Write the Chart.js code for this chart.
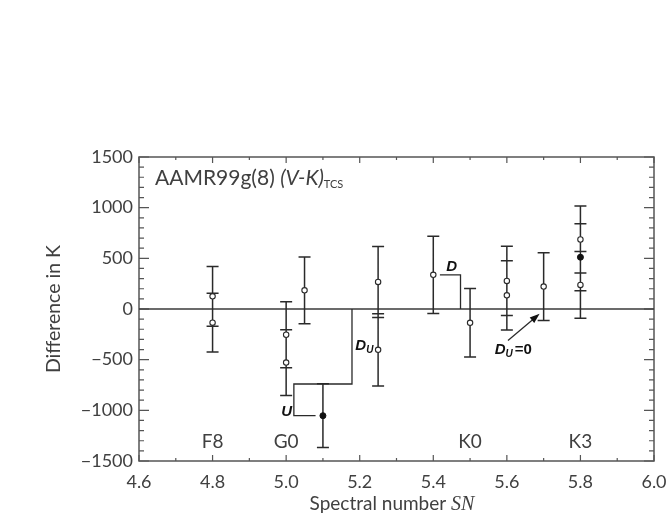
<!DOCTYPE html>
<html lang="en">
<head>
<meta charset="UTF-8">
<title>AAMR99g(8) (V-K)TCS</title>
<script src="https://cdn.jsdelivr.net/npm/chart.js"></script>
<style>
    body { margin: 0; background: #fff; }
    #wrap { width: 667px; height: 516px; }
</style>
</head>
<body>
<div id="wrap"><canvas id="chart" width="667" height="516"></canvas></div>
<script>
    // open symbols: spectral number, difference (K), error bar half length
    const spectralNumber = [4.8, 4.8, 5.0, 5.0, 5.05, 5.25, 5.25, 5.4, 5.5, 5.6, 5.6, 5.7, 5.8, 5.8];
    const difference     = [125, -135, -254, -529, 184, 267, -403, 337, -136, 277, 135, 221, 686, 238];
    const errorBar       = [295, 290, 325, 325, 330, 350, 356, 382, 338, 342, 342, 334, 330, 330];

    // filled symbols
    const filledNumber = [5.1, 5.8];
    const filledDiff   = [-1053, 511];
    const filledErr    = [315, 330];

    // spectral type labels along the bottom
    const spectralTypes = ['F8', 'G0', 'K0', 'K3'];
    const spectralTypeX = [4.8, 5.0, 5.5, 5.8];
    const spectralTypeLevel = -1310;

    const xTickValues = [4.6, 4.8, 5.0, 5.2, 5.4, 5.6, 5.8, 6.0];
    const yTickValues = [-1500, -1000, -500, 0, 500, 1000, 1500];

    // bracket U + D_U, bracket D, arrow for D_U = 0 (data units)
    const uBracketX = [5.08, 5.021, 5.021, 5.179, 5.179];
    const uBracketY = [-1053, -1053, -740, -740, 0];
    const dBracketX = [5.418, 5.474, 5.474];
    const dBracketY = [337, 337, 0];
    const arrowX = [5.603, 5.689];
    const arrowY = [-311, -47];

    const FONT = 'Lato, "Liberation Sans", sans-serif';
    const INK = '#2a2a2a';
    const TEXT = '#404040';

    function font(size, style) {
        return (style || 'normal') + ' 400 ' + size + 'px ' + FONT;
    }

    const openPoints = spectralNumber.map((x, i) => ({ x: x, y: difference[i], e: errorBar[i] }));
    const filledPoints = filledNumber.map((x, i) => ({ x: x, y: filledDiff[i], e: filledErr[i] }));

    // axes box, inward ticks, zero line, error bars, annotations
    const decorations = {
        id: 'decorations',
        beforeDatasetsDraw(chart) {
            const c = chart.ctx;
            const a = chart.chartArea;
            const xs = chart.scales.x, ys = chart.scales.y;
            c.save();
            c.strokeStyle = '#555';
            c.lineWidth = 1.5;
            c.strokeRect(a.left, a.top, a.right - a.left, a.bottom - a.top);

            c.lineWidth = 1.2;
            c.beginPath();
            for (let k = 0; k <= 14; k++) {
                const v = 4.6 + k * 0.1;
                const px = xs.getPixelForValue(v);
                const len = k % 2 === 0 ? 6 : 3;
                c.moveTo(px, a.bottom); c.lineTo(px, a.bottom - len);
                c.moveTo(px, a.top); c.lineTo(px, a.top + len);
            }
            for (let k = 0; k <= 30; k++) {
                const v = -1500 + k * 100;
                const py = ys.getPixelForValue(v);
                const len = k % 5 === 0 ? 10 : 5;
                c.moveTo(a.left, py); c.lineTo(a.left + len, py);
                c.moveTo(a.right, py); c.lineTo(a.right - len, py);
            }
            c.stroke();

            // zero line
            c.strokeStyle = '#3a3a3a';
            c.lineWidth = 1.3;
            c.beginPath();
            c.moveTo(a.left, ys.getPixelForValue(0));
            c.lineTo(a.right, ys.getPixelForValue(0));
            c.stroke();

            // error bars
            c.strokeStyle = INK;
            c.lineWidth = 1.5;
            c.beginPath();
            openPoints.concat(filledPoints).forEach(p => {
                const px = xs.getPixelForValue(p.x);
                const top = ys.getPixelForValue(p.y + p.e);
                const bot = ys.getPixelForValue(p.y - p.e);
                c.moveTo(px, top); c.lineTo(px, bot);
                c.moveTo(px - 6, top); c.lineTo(px + 6, top);
                c.moveTo(px - 6, bot); c.lineTo(px + 6, bot);
            });
            c.stroke();

            // brackets
            c.lineWidth = 1.3;
            [[uBracketX, uBracketY], [dBracketX, dBracketY]].forEach(([bx, by]) => {
                c.beginPath();
                bx.forEach((x, i) => {
                    const px = xs.getPixelForValue(x), py = ys.getPixelForValue(by[i]);
                    if (i === 0) c.moveTo(px, py); else c.lineTo(px, py);
                });
                c.stroke();
            });

            // arrow
            const x0 = xs.getPixelForValue(arrowX[0]), y0 = ys.getPixelForValue(arrowY[0]);
            const x1 = xs.getPixelForValue(arrowX[1]), y1 = ys.getPixelForValue(arrowY[1]);
            const ang = Math.atan2(y1 - y0, x1 - x0);
            c.lineWidth = 1.2;
            c.beginPath();
            c.moveTo(x0, y0);
            c.lineTo(x1 - 8 * Math.cos(ang), y1 - 8 * Math.sin(ang));
            c.stroke();
            c.fillStyle = '#111';
            c.beginPath();
            c.moveTo(x1, y1);
            c.lineTo(x1 - 10 * Math.cos(ang) + 3.5 * Math.sin(ang), y1 - 10 * Math.sin(ang) - 3.5 * Math.cos(ang));
            c.lineTo(x1 - 10 * Math.cos(ang) - 3.5 * Math.sin(ang), y1 - 10 * Math.sin(ang) + 3.5 * Math.cos(ang));
            c.closePath();
            c.fill();
            c.restore();
        },
        afterDatasetsDraw(chart) {
            const c = chart.ctx;
            const a = chart.chartArea;
            const xs = chart.scales.x, ys = chart.scales.y;
            c.save();
            c.fillStyle = TEXT;
            c.textBaseline = 'alphabetic';

            // title
            let tx = a.left + 16;
            const ty = 185;
            c.textAlign = 'left';
            c.font = font(21);
            c.fillText('AAMR99g(8) ', tx, ty);
            tx += c.measureText('AAMR99g(8) ').width;
            c.font = font(21, 'italic');
            c.fillText('(V-K)', tx, ty);
            tx += c.measureText('(V-K)').width;
            c.font = font(11);
            c.fillText('TCS', tx, ty + 3);

            // spectral types
            c.font = font(19);
            c.textAlign = 'center';
            c.textBaseline = 'middle';
            spectralTypes.forEach((t, i) => {
                c.fillText(t, xs.getPixelForValue(spectralTypeX[i]), ys.getPixelForValue(spectralTypeLevel));
            });

            // bold italic annotation labels
            c.fillStyle = '#111';
            c.textBaseline = 'alphabetic';
            c.textAlign = 'left';
            function du(x, y, suffix) {
                let px = xs.getPixelForValue(x);
                const py = ys.getPixelForValue(y);
                c.font = 'italic bold 15px "Liberation Sans", sans-serif';
                c.fillText('D', px, py);
                px += c.measureText('D').width;
                c.font = 'italic bold 10px "Liberation Sans", sans-serif';
                c.fillText('U', px, py + 3);
                px += c.measureText('U').width + 2;
                if (suffix) {
                    c.font = 'bold 15px "Liberation Sans", sans-serif';
                    c.fillText(suffix, px, py);
                }
            }
            c.font = 'italic bold 15px "Liberation Sans", sans-serif';
            c.fillText('D', xs.getPixelForValue(5.435), ys.getPixelForValue(375));
            c.textAlign = 'right';
            c.fillText('U', xs.getPixelForValue(5.016), ys.getPixelForValue(-1060));
            c.textAlign = 'left';
            du(5.188, -405);
            du(5.567, -440, '=0');

            // axis titles
            c.fillStyle = TEXT;
            const part1 = 'Spectral number ';
            c.font = font(19);
            const w1 = c.measureText(part1).width;
            c.font = 'italic 20px "Liberation Serif", serif';
            const w2 = c.measureText('SN').width;
            const cx = 392 - (w1 + w2) / 2;
            c.font = font(19);
            c.fillText(part1, cx, 510);
            c.font = 'italic 20px "Liberation Serif", serif';
            c.fillText('SN', cx + w1, 510);

            c.translate(60, 309);
            c.rotate(-Math.PI / 2);
            c.textAlign = 'center';
            c.font = font(19.5);
            c.fillText('Difference in K', 0, 0);
            c.restore();
        }
    };

    new Chart(document.getElementById('chart'), {
        type: 'scatter',
        data: {
            datasets: [
                {
                    data: openPoints,
                    pointRadius: 2.7,
                    pointBackgroundColor: '#fff',
                    pointBorderColor: INK,
                    pointBorderWidth: 1.1
                },
                {
                    data: filledPoints,
                    pointRadius: 3,
                    pointBackgroundColor: '#111',
                    pointBorderColor: '#111',
                    pointBorderWidth: 1
                }
            ]
        },
        options: {
            responsive: false,
            animation: false,
            layout: { padding: { left: 0, right: 13, top: 157, bottom: 0 } },
            plugins: { legend: { display: false }, tooltip: { enabled: false } },
            scales: {
                x: {
                    type: 'linear',
                    min: 4.6,
                    max: 6.0,
                    afterBuildTicks: s => { s.ticks = xTickValues.map(v => ({ value: v })); },
                    afterFit: s => { s.height = 55; s.paddingLeft = 0; s.paddingRight = 0; },
                    grid: { display: false, drawTicks: false },
                    border: { display: false },
                    ticks: {
                        callback: v => v.toFixed(1),
                        font: { family: FONT, size: 18, weight: 400 },
                        color: TEXT,
                        padding: 10,
                        maxRotation: 0,
                        autoSkip: false
                    }
                },
                y: {
                    min: -1500,
                    max: 1500,
                    afterBuildTicks: s => { s.ticks = yTickValues.map(v => ({ value: v })); },
                    afterFit: s => { s.width = 139; s.paddingTop = 0; s.paddingBottom = 0; },
                    grid: { display: false, drawTicks: false },
                    border: { display: false },
                    ticks: {
                        callback: v => String(v).replace('-', '\u2212'),
                        font: { family: FONT, size: 18, weight: 400 },
                        color: TEXT,
                        padding: 6,
                        autoSkip: false
                    }
                }
            }
        },
        plugins: [decorations]
    });
</script>
</body>
</html>
